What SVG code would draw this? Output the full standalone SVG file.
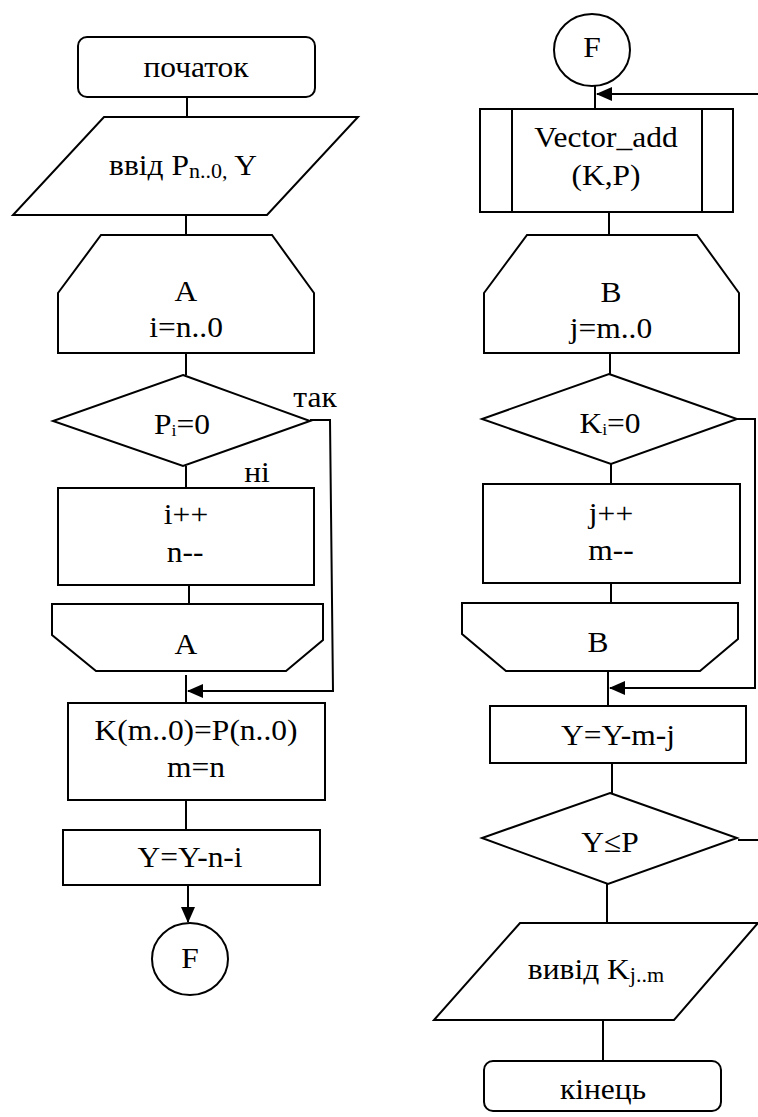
<svg xmlns="http://www.w3.org/2000/svg" width="758" height="1117" viewBox="0 0 758 1117">
<style>
.s{fill:#fff;stroke:#000;stroke-width:2;stroke-linejoin:miter}
.c{fill:none;stroke:#000;stroke-width:2}
.t{font-family:"Liberation Serif","Times New Roman",serif;font-size:30px;text-anchor:middle;fill:#000}
</style>
<defs>
<marker id="arr" markerWidth="16" markerHeight="14" refX="15" refY="7" orient="auto" markerUnits="userSpaceOnUse">
<path d="M0,0 L16,7 L0,14 z" fill="#000"/>
</marker>
</defs>
<rect width="758" height="1117" fill="#fff"/>

<g id="connectors">
<line class="c" x1="187" y1="97" x2="187" y2="118"/>
<line class="c" x1="186" y1="215" x2="186" y2="236"/>
<line class="c" x1="186" y1="353" x2="186" y2="375"/>
<line class="c" x1="186" y1="466" x2="186" y2="488"/>
<line class="c" x1="189" y1="585" x2="189" y2="604"/>
<line class="c" x1="186" y1="675" x2="186" y2="703"/>
<polyline class="c" points="310,420 330,420 333,691 188,691" marker-end="url(#arr)"/>
<line class="c" x1="186" y1="800" x2="186" y2="830"/>
<line class="c" x1="188" y1="885" x2="188" y2="922" marker-end="url(#arr)"/>

<line class="c" x1="595" y1="86" x2="595" y2="109"/>
<line class="c" x1="758" y1="94" x2="597" y2="94" marker-end="url(#arr)"/>
<line class="c" x1="609" y1="212" x2="609" y2="235"/>
<line class="c" x1="610" y1="353" x2="610" y2="374"/>
<line class="c" x1="611" y1="464" x2="611" y2="484"/>
<line class="c" x1="611" y1="583" x2="611" y2="603"/>
<line class="c" x1="608" y1="663" x2="608" y2="706"/>
<polyline class="c" points="737,419 755,419 755,688 610,688" marker-end="url(#arr)"/>
<line class="c" x1="612" y1="763" x2="612" y2="793"/>
<line class="c" x1="738" y1="840" x2="758" y2="840"/>
<line class="c" x1="607" y1="884" x2="607" y2="923"/>
<line class="c" x1="603" y1="1020" x2="603" y2="1061"/>
</g>

<g id="start">
<rect class="s" x="78" y="37" width="237" height="60" rx="9"/>
<text class="t" transform="translate(196 0) scale(1.05 1)" x="0" y="77">початок</text>
</g>

<g id="input">
<polygon class="s" points="104,117 358,117 267,215 13,215"/>
<text class="t" transform="translate(183 0) scale(1.05 1)" x="0" y="175">ввід P<tspan font-size="21" dy="3">n..0,</tspan><tspan dy="-3"> Y</tspan></text>
</g>

<g id="loopA-start">
<polygon class="s" points="101,235 272,235 314,293 314,353 58,353 58,293"/>
<text class="t" transform="translate(186 0) scale(1.05 1)" x="0" y="301">A</text>
<text class="t" transform="translate(186 0) scale(1.05 1)" x="0" y="337">i=n..0</text>
</g>

<g id="decisionP">
<polygon class="s" points="183,375 310,421 183,466 53,421"/>
<text class="t" transform="translate(182 0) scale(1.05 1)" x="0" y="434">P<tspan font-size="17" dy="2">i</tspan><tspan dy="-2">=0</tspan></text>
<text class="t" transform="translate(315 0) scale(1.05 1)" x="0" y="407">так</text>
<text class="t" transform="translate(257 0) scale(1.05 1)" x="0" y="482">ні</text>
</g>

<g id="incA">
<rect class="s" x="58" y="488" width="256" height="97"/>
<text class="t" transform="translate(186 0) scale(1.05 1)" x="0" y="524">i++</text>
<text class="t" transform="translate(185 0) scale(1.05 1)" x="0" y="562">n--</text>
</g>

<g id="loopA-end">
<polygon class="s" points="52,604 323,604 323,640 286,671 96,671 52,635"/>
<text class="t" transform="translate(186 0) scale(1.05 1)" x="0" y="654">A</text>
</g>

<g id="copyK">
<rect class="s" x="68" y="703" width="257" height="97"/>
<text class="t" transform="translate(196 0) scale(1.05 1)" x="0" y="740">K(m..0)=P(n..0)</text>
<text class="t" transform="translate(196 0) scale(1.05 1)" x="0" y="777">m=n</text>
</g>

<g id="calcY1">
<rect class="s" x="63" y="830" width="257" height="55"/>
<text class="t" transform="translate(190 0) scale(1.05 1)" x="0" y="867">Y=Y-n-i</text>
</g>

<g id="connF-left">
<ellipse class="s" cx="190" cy="959" rx="38" ry="36"/>
<text class="t" transform="translate(190 0) scale(1.05 1)" x="0" y="968">F</text>
</g>

<g id="connF-right">
<ellipse class="s" cx="592" cy="50" rx="38" ry="36"/>
<text class="t" transform="translate(592 0) scale(1.05 1)" x="0" y="57">F</text>
</g>

<g id="vectorAdd">
<rect class="s" x="480" y="109" width="253" height="103"/>
<line class="c" x1="512" y1="109" x2="512" y2="212"/>
<line class="c" x1="702" y1="109" x2="702" y2="212"/>
<text class="t" transform="translate(606 0) scale(1.05 1)" x="0" y="147">Vector_add</text>
<text class="t" transform="translate(606 0) scale(1.05 1)" x="0" y="185">(K,P)</text>
</g>

<g id="loopB-start">
<polygon class="s" points="527,235 697,235 739,293 739,353 484,353 484,293"/>
<text class="t" transform="translate(611 0) scale(1.05 1)" x="0" y="302">B</text>
<text class="t" transform="translate(611 0) scale(1.05 1)" x="0" y="338">j=m..0</text>
</g>

<g id="decisionK">
<polygon class="s" points="609,374 737,419 611,464 482,419"/>
<text class="t" transform="translate(610 0) scale(1.05 1)" x="0" y="433">K<tspan font-size="17" dy="2">i</tspan><tspan dy="-2">=0</tspan></text>
</g>

<g id="incB">
<rect class="s" x="483" y="484" width="257" height="99"/>
<text class="t" transform="translate(611 0) scale(1.05 1)" x="0" y="523">j++</text>
<text class="t" transform="translate(611 0) scale(1.05 1)" x="0" y="560">m--</text>
</g>

<g id="loopB-end">
<polygon class="s" points="462,603 738,603 738,639 700,671 506,671 462,634"/>
<text class="t" transform="translate(598 0) scale(1.05 1)" x="0" y="652">B</text>
</g>

<g id="calcY2">
<rect class="s" x="490" y="706" width="256" height="57"/>
<text class="t" transform="translate(618 0) scale(1.05 1)" x="0" y="745">Y=Y-m-j</text>
</g>

<g id="decisionY">
<polygon class="s" points="610,793 737,838 608,884 482,838"/>
<text class="t" transform="translate(610 0) scale(1.05 1)" x="0" y="852">Y≤P</text>
</g>

<g id="output">
<polygon class="s" points="520,923 758,923 674,1020 434,1020"/>
<text class="t" transform="translate(596 0) scale(1.05 1)" x="0" y="979">вивід K<tspan font-size="21" dy="3">j..m</tspan></text>
</g>

<g id="end">
<rect class="s" x="484" y="1061" width="237" height="50" rx="9"/>
<text class="t" transform="translate(603 0) scale(1.05 1)" x="0" y="1099">кінець</text>
</g>
</svg>
